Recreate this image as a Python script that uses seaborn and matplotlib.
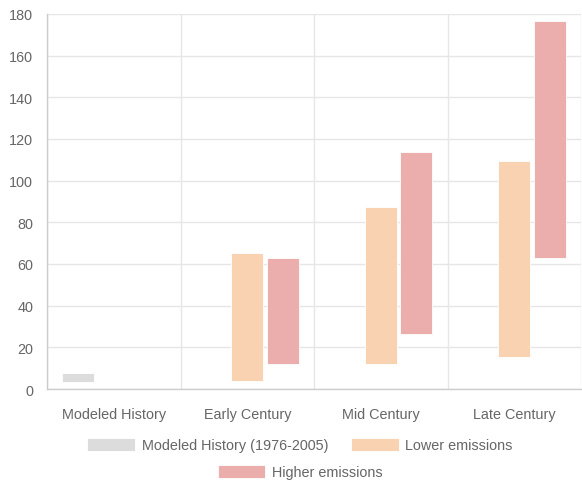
import numpy as np
import pandas as pd
import matplotlib
matplotlib.use("Agg")
import matplotlib.pyplot as plt
from matplotlib.patches import Patch
import seaborn as sns

# datos (rangos: mínimo - máximo)
periodos = ["Modeled History", "Early Century", "Mid Century", "Late Century"]
escenarios = ["Modeled History (1976-2005)", "Lower emissions", "Higher emissions"]
colores = ["#dcdcdc", "#f9d2b1", "#ecadad"]

hist_periodo = ["Modeled History"]
hist_min = [3.5]
hist_max = [7.7]

fut_periodo = ["Early Century", "Mid Century", "Late Century"]
bajo_min = [4.0, 12.0, 15.5]
bajo_max = [65.3, 87.5, 109.6]
alto_min = [12.0, 26.4, 62.7]
alto_max = [63.0, 113.6, 176.5]

filas = []
for p, lo, hi in zip(hist_periodo, hist_min, hist_max):
    filas.append((p, escenarios[0], lo, hi))
for p, lo, hi in zip(fut_periodo, bajo_min, bajo_max):
    filas.append((p, escenarios[1], lo, hi))
for p, lo, hi in zip(fut_periodo, alto_min, alto_max):
    filas.append((p, escenarios[2], lo, hi))
df = pd.DataFrame(filas, columns=["periodo", "escenario", "minimo", "maximo"])
df["rango"] = df["maximo"] - df["minimo"]

sns.set_style("white")
plt.rcParams["font.family"] = ["Liberation Sans", "DejaVu Sans"]
gris_texto = "#666666"
gris_linea = "#e6e6e6"
tam = 10.4

W, H = 582, 481
fig = plt.figure(figsize=(W / 100, H / 100), dpi=100)
izq, der, arr, aba = 47, 581, 15, 390
ax = fig.add_axes([izq / W, 1 - aba / H, (der - izq) / W, (aba - arr) / H])

sns.barplot(data=df, x="periodo", y="rango", hue="escenario",
            order=periodos, hue_order=escenarios, palette=colores,
            dodge=True, width=0.8, gap=0.1, saturation=1,
            edgecolor="white", linewidth=0.6, legend=False, ax=ax)

# barras flotantes: movemos cada barra a su mínimo
for cont, esc in zip(ax.containers, escenarios):
    sub = df[df["escenario"] == esc].set_index("periodo")
    for barra in cont:
        idx = int(round(barra.get_x() + barra.get_width() / 2))
        barra.set_y(sub.loc[periodos[idx], "minimo"])

ax.set_ylim(0, 180)
ax.set_xlim(-0.5, 3.5)
ax.set_yticks(np.arange(0, 181, 20))
ax.set_xticks(range(len(periodos)))
ax.set_xticklabels(periodos)
ax.set_xticks(np.arange(-0.5, 3.6, 1), minor=True)
ax.set_xlabel("")
ax.set_ylabel("")

ax.grid(axis="y", color=gris_linea, linewidth=1)
ax.grid(axis="x", which="minor", color=gris_linea, linewidth=1)
ax.set_axisbelow(True)
for lado in ["top", "right"]:
    ax.spines[lado].set_visible(False)
for lado in ["left", "bottom"]:
    ax.spines[lado].set_color("#cccccc")
    ax.spines[lado].set_linewidth(1)

ax.tick_params(axis="y", length=7, color=gris_linea, labelcolor=gris_texto,
               labelsize=tam, pad=3)
ax.tick_params(axis="x", which="major", length=0, labelcolor=gris_texto,
               labelsize=tam, pad=13)
ax.tick_params(axis="x", which="minor", length=8, color=gris_linea)

# leyenda en dos filas centradas
asas = [Patch(facecolor=c, edgecolor="white", linewidth=0.6) for c in colores]
ley_kws = dict(frameon=False, fontsize=tam, handlelength=3.3, handleheight=1.1,
               handletextpad=0.45, columnspacing=1.6, labelcolor=gris_texto,
               borderaxespad=0, borderpad=0)
ley1 = fig.legend(asas[:2], escenarios[:2], ncol=2, loc="center",
                  bbox_to_anchor=(300 / W, 1 - 446 / H), **ley_kws)
ley2 = fig.legend(asas[2:], escenarios[2:], ncol=1, loc="center",
                  bbox_to_anchor=(300 / W, 1 - 473 / H), **ley_kws)

plt.savefig("out.png", dpi=100)
